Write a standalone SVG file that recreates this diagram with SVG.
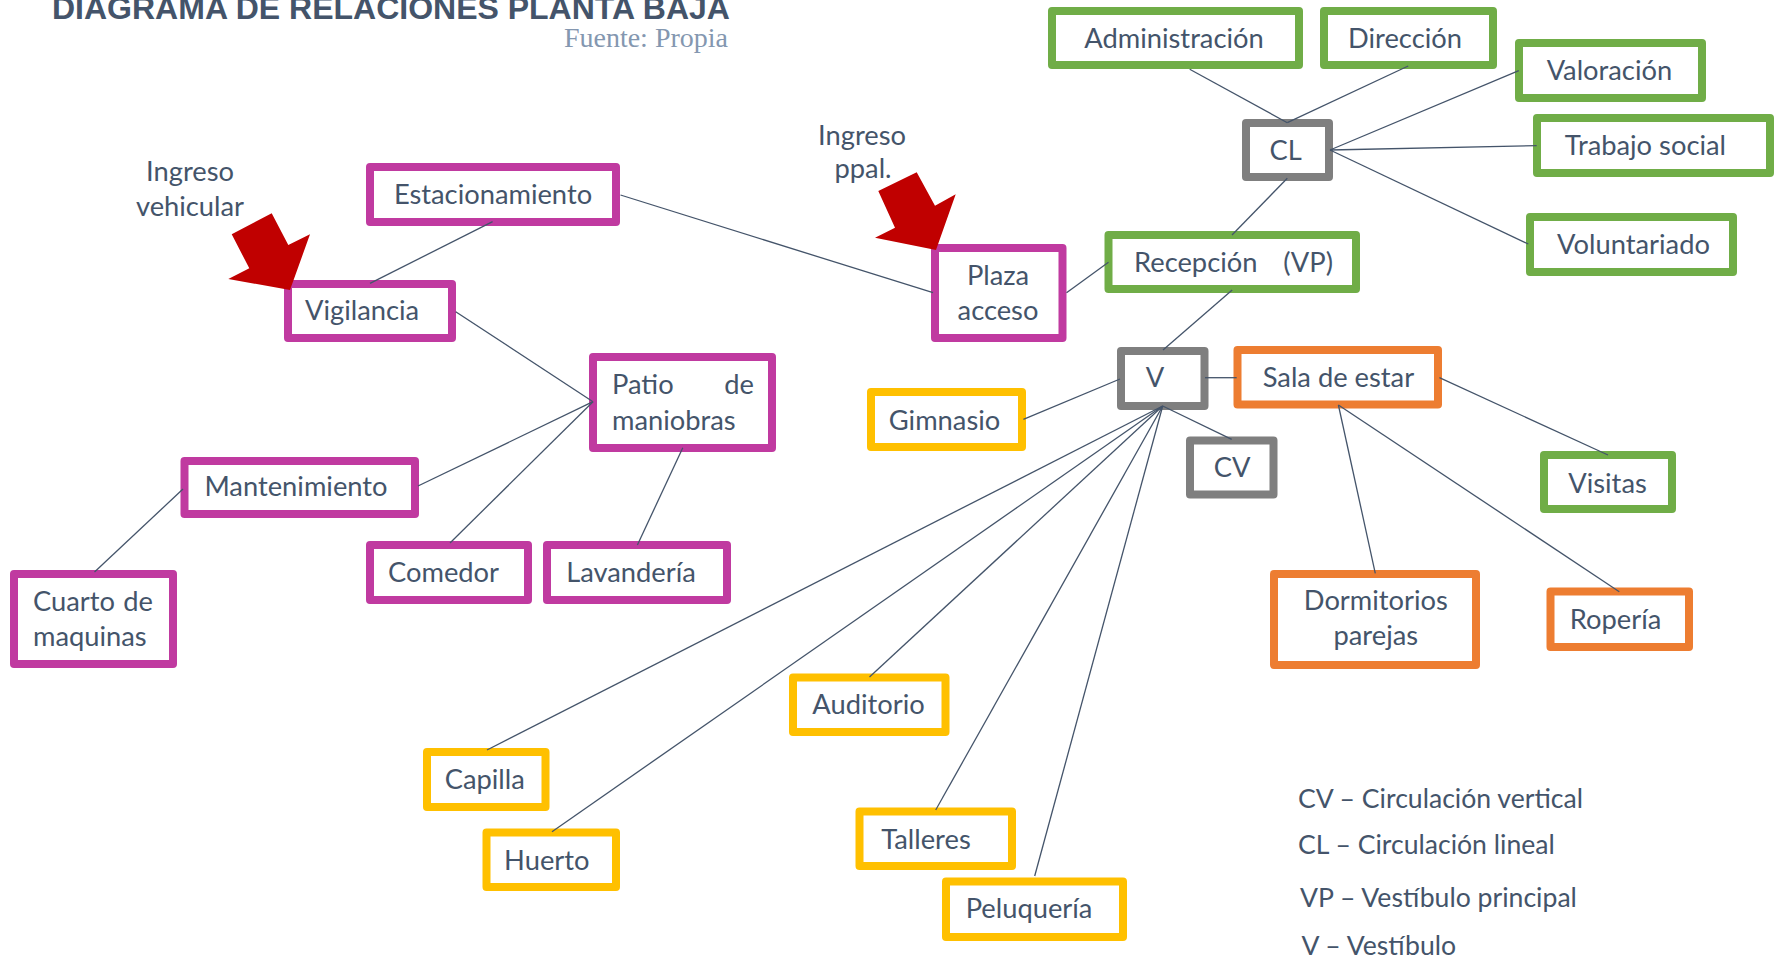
<svg xmlns="http://www.w3.org/2000/svg" width="1779" height="959" viewBox="0 0 1779 959">
<style>
.box{fill:#ffffff;stroke-width:8;stroke-linejoin:round}
.m{stroke:#C03AA0}
.g{stroke:#70AD47}
.o{stroke:#ED7D31}
.y{stroke:#FFC000}
.k{stroke:#7F7F7F}
.t{font-family:Lato,"Open Sans","DejaVu Sans",sans-serif;font-size:27.3px;fill:#44546A;text-anchor:middle}
.l{font-family:Lato,"Open Sans","DejaVu Sans",sans-serif;font-size:27.3px;fill:#44546A}
.lg{font-family:Lato,"Open Sans","DejaVu Sans",sans-serif;font-size:26.6px;fill:#44546A}
.c line{stroke:#44546A;stroke-width:1.3}
.arrow{fill:#C00000}
</style>
<rect x="0" y="0" width="1779" height="959" fill="#ffffff"/>
<text x="52" y="19" font-family="'Liberation Sans',Arial,sans-serif" font-weight="bold" font-size="32" fill="#44546A">DIAGRAMA DE RELACIONES PLANTA BAJA</text>
<text x="728" y="47" font-family="'Liberation Serif','Times New Roman',serif" font-size="28" fill="#8497B0" text-anchor="end">Fuente: Propia</text>

<g id="node-estacionamiento"><rect class="box m" x="370" y="167" width="246" height="55"/><text class="t" x="493" y="204">Estacionamiento</text></g>
<g id="node-vigilancia"><rect class="box m" x="288" y="284" width="164" height="54"/><text class="t" x="362" y="320">Vigilancia</text></g>
<g id="node-patio"><rect class="box m" x="593" y="357" width="179" height="91"/><text class="l" x="612" y="394">Patio</text><text class="l" x="754" y="394" text-anchor="end">de</text><text class="l" x="612" y="430">maniobras</text></g>
<g id="node-mantenimiento"><rect class="box m" x="184.5" y="461" width="230.5" height="53"/><text class="t" x="296" y="496">Mantenimiento</text></g>
<g id="node-cuarto"><rect class="box m" x="14" y="574" width="159" height="90"/><text class="l" x="33" y="611">Cuarto</text><text class="l" x="153" y="611" text-anchor="end">de</text><text class="l" x="33" y="646">maquinas</text></g>
<g id="node-comedor"><rect class="box m" x="370" y="545" width="158" height="55"/><text class="t" x="443.5" y="582">Comedor</text></g>
<g id="node-lavanderia"><rect class="box m" x="547" y="545" width="180" height="55"/><text class="t" x="631" y="582">Lavandería</text></g>
<g id="node-plaza"><rect class="box m" x="935" y="248" width="127.5" height="90"/><text class="t" x="998" y="285">Plaza</text><text class="t" x="998" y="320">acceso</text></g>

<g id="node-administracion"><rect class="box g" x="1052" y="11" width="247" height="54"/><text class="t" x="1174" y="48">Administración</text></g>
<g id="node-direccion"><rect class="box g" x="1324" y="11" width="169" height="54"/><text class="t" x="1405" y="48">Dirección</text></g>
<g id="node-valoracion"><rect class="box g" x="1519" y="43" width="183" height="55"/><text class="t" x="1609.4" y="80">Valoración</text></g>
<g id="node-trabajo"><rect class="box g" x="1537" y="118" width="233" height="55"/><text class="t" x="1645.4" y="155">Trabajo social</text></g>
<g id="node-cl"><rect class="box k" x="1246" y="123" width="83" height="54"/><text class="t" x="1285.6" y="160">CL</text></g>
<g id="node-voluntariado"><rect class="box g" x="1530" y="217" width="203" height="55"/><text class="t" x="1633.5" y="254">Voluntariado</text></g>
<g id="node-recepcion"><rect class="box g" x="1108.5" y="235" width="247.5" height="54"/><text class="l" y="272"><tspan x="1134">Recepción</tspan><tspan x="1283.3">(VP)</tspan></text></g>
<g id="node-v"><rect class="box k" x="1121" y="351" width="83.5" height="55"/><text class="t" x="1155" y="387">V</text></g>
<g id="node-sala"><rect class="box o" x="1237.5" y="350" width="200.5" height="54.5"/><text class="t" x="1338.4" y="387">Sala de estar</text></g>
<g id="node-gimnasio"><rect class="box y" x="871" y="392" width="151" height="55"/><text class="t" x="944.5" y="430">Gimnasio</text></g>
<g id="node-cv"><rect class="box k" x="1190" y="440.5" width="83.5" height="54"/><text class="t" x="1232" y="477">CV</text></g>
<g id="node-visitas"><rect class="box g" x="1544" y="455" width="128" height="54"/><text class="t" x="1607.5" y="492.5">Visitas</text></g>
<g id="node-capilla"><rect class="box y" x="427" y="752" width="118.5" height="55"/><text class="t" x="484.7" y="788.5">Capilla</text></g>
<g id="node-huerto"><rect class="box y" x="486.5" y="832.5" width="129.5" height="54.5"/><text class="t" x="546.8" y="869.5">Huerto</text></g>
<g id="node-auditorio"><rect class="box y" x="793" y="677.5" width="152.5" height="54.5"/><text class="t" x="868.5" y="714">Auditorio</text></g>
<g id="node-talleres"><rect class="box y" x="859.5" y="811.5" width="152.5" height="54.5"/><text class="t" x="926" y="849">Talleres</text></g>
<g id="node-peluqueria"><rect class="box y" x="946" y="881.5" width="177" height="55.5"/><text class="t" x="1029" y="917.5">Peluquería</text></g>
<g id="node-dormitorios"><rect class="box o" x="1274" y="574" width="202" height="91"/><text class="t" x="1375.8" y="610">Dormitorios</text><text class="t" x="1375.8" y="645">parejas</text></g>
<g id="node-roperia"><rect class="box o" x="1550.5" y="591.5" width="138.5" height="55.5"/><text class="t" x="1615.6" y="628.5">Ropería</text></g>

<g id="connectors" class="c">
<line x1="492.6" y1="221.7" x2="370" y2="283.3"/>
<line x1="620.5" y1="195" x2="933" y2="292.7"/>
<line x1="455.7" y1="311.7" x2="593" y2="401.7"/>
<line x1="593" y1="401.7" x2="418" y2="486"/>
<line x1="593" y1="401.7" x2="450" y2="543"/>
<line x1="682.8" y1="447.7" x2="637.4" y2="545"/>
<line x1="183" y1="489" x2="94.5" y2="572"/>
<line x1="1066.5" y1="292.7" x2="1108.5" y2="262.3"/>
<line x1="1287.3" y1="178.3" x2="1232" y2="235"/>
<line x1="1189.7" y1="69.3" x2="1287.3" y2="122.7"/>
<line x1="1408.2" y1="66" x2="1287.3" y2="122.7"/>
<line x1="1330" y1="150" x2="1518.8" y2="70.7"/>
<line x1="1330" y1="150" x2="1536.7" y2="145.7"/>
<line x1="1330" y1="150" x2="1528.3" y2="244"/>
<line x1="1232.2" y1="290" x2="1163" y2="350"/>
<line x1="1205" y1="377.7" x2="1236.7" y2="377.7"/>
<line x1="1120" y1="379" x2="1023.4" y2="419.3"/>
<line x1="1162.7" y1="406" x2="1231.7" y2="439.3"/>
<line x1="1162.7" y1="406" x2="487" y2="750"/>
<line x1="1162.7" y1="406" x2="552" y2="831.7"/>
<line x1="1162.7" y1="406" x2="869.5" y2="677"/>
<line x1="1162.7" y1="406" x2="935.7" y2="810"/>
<line x1="1162.7" y1="406" x2="1034.7" y2="876"/>
<line x1="1439.4" y1="377.7" x2="1608" y2="455"/>
<line x1="1338.4" y1="405" x2="1375.3" y2="573.3"/>
<line x1="1338.4" y1="405" x2="1619.3" y2="591.7"/>
</g>

<g id="arrow-vehicular"><polygon class="arrow" points="231.7,234.3 271.7,213.3 288.3,245 310,234.3 290,290 228.3,279 249.3,268.3"/></g>
<g id="arrow-ppal"><polygon class="arrow" points="878.3,191 916.7,172.3 935,205.7 955.7,194.3 936,250 875,237.7 895,227.7"/></g>

<g id="label-ingreso-vehicular"><text class="t" x="190" y="181">Ingreso</text><text class="t" x="190" y="216">vehicular</text></g>
<g id="label-ingreso-ppal"><text class="t" x="862" y="145">Ingreso</text><text class="t" x="863" y="178">ppal.</text></g>

<g id="legend">
<text class="lg" x="1298" y="808">CV – Circulación vertical</text>
<text class="lg" x="1298" y="854">CL – Circulación lineal</text>
<text class="lg" x="1300" y="907">VP – Vestíbulo principal</text>
<text class="lg" x="1301.5" y="955">V – Vestíbulo</text>
</g>
</svg>
